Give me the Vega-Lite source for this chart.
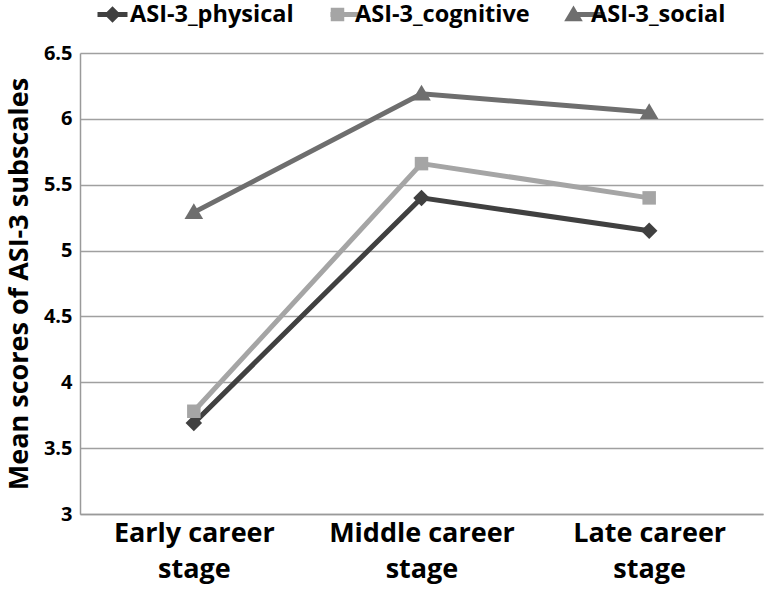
{
  "$schema": "https://vega.github.io/schema/vega-lite/v6.json",
  "width": 764,
  "height": 589,
  "autosize": {"type": "fit", "contains": "padding"},
  "padding": {"left": 5, "right": 1, "top": 43, "bottom": 7},
  "background": "white",
  "config": {
    "view": {"stroke": null},
    "font": "Open Sans"
  },
  "data": {
    "values": [
      {"stage": "Early career stage", "subscale": "ASI-3_physical", "mean": 3.69},
      {"stage": "Middle career stage", "subscale": "ASI-3_physical", "mean": 5.40},
      {"stage": "Late career stage", "subscale": "ASI-3_physical", "mean": 5.15},
      {"stage": "Early career stage", "subscale": "ASI-3_cognitive", "mean": 3.78},
      {"stage": "Middle career stage", "subscale": "ASI-3_cognitive", "mean": 5.66},
      {"stage": "Late career stage", "subscale": "ASI-3_cognitive", "mean": 5.40},
      {"stage": "Early career stage", "subscale": "ASI-3_social", "mean": 5.29},
      {"stage": "Middle career stage", "subscale": "ASI-3_social", "mean": 6.19},
      {"stage": "Late career stage", "subscale": "ASI-3_social", "mean": 6.05}
    ]
  },
  "encoding": {
    "x": {
      "field": "stage",
      "type": "nominal",
      "sort": ["Early career stage", "Middle career stage", "Late career stage"],
      "scale": {"type": "point", "padding": 0.5},
      "axis": {
        "title": null,
        "labelAngle": 0,
        "labelExpr": "[slice(datum.label, 0, indexof(datum.label, ' stage')), 'stage']",
        "labelFontSize": 27,
        "labelFontWeight": "bold",
        "labelColor": "black",
        "labelLineHeight": 36,
        "labelLimit": 400,
        "labelPadding": 6,
        "ticks": false,
        "domainColor": "#9a9a9a",
        "domainWidth": 1.5,
        "grid": false
      }
    },
    "y": {
      "field": "mean",
      "type": "quantitative",
      "scale": {"domain": [3, 6.5], "nice": false, "zero": false},
      "axis": {
        "title": "Mean scores of ASI-3 subscales",
        "titleFontSize": 27,
        "titleFontWeight": "bold",
        "titleColor": "black",
        "titlePadding": 10,
        "values": [3, 3.5, 4, 4.5, 5, 5.5, 6, 6.5],
        "format": "~g",
        "labelFontSize": 20,
        "labelFontWeight": "bold",
        "labelColor": "black",
        "labelPadding": 8,
        "ticks": false,
        "domainColor": "#9a9a9a",
        "domainWidth": 1.5,
        "grid": true,
        "gridColor": "#a0a0a0",
        "gridWidth": 1.5
      }
    }
  },
  "layer": [
    {
      "mark": {"type": "line", "strokeWidth": 5},
      "encoding": {
        "stroke": {
          "field": "subscale",
          "type": "nominal",
          "sort": ["ASI-3_physical", "ASI-3_cognitive", "ASI-3_social"],
          "scale": {"range": ["#404040", "#a5a5a5", "#6e6e6e"]},
          "legend": {
            "title": null,
            "orient": "none",
            "legendX": 15,
            "legendY": -56,
            "direction": "horizontal",
            "labelFontSize": 23.5,
            "labelFontWeight": "bold",
            "labelColor": "black",
            "labelOpacity": 0,
            "labelOffset": 0,
            "labelLimit": 300,
            "symbolType": "stroke",
            "symbolSize": 900,
            "symbolStrokeWidth": 5,
            "columnPadding": 26
          }
        }
      }
    },
    {
      "mark": {"type": "point", "filled": true, "opacity": 1, "size": 900},
      "encoding": {
        "color": {
          "field": "subscale",
          "type": "nominal",
          "scale": {
            "domain": ["ASI-3_physical", "ASI-3_cognitive", "ASI-3_social"],
            "range": ["#404040", "#a5a5a5", "#6e6e6e"]
          },
          "legend": {
            "title": null,
            "orient": "none",
            "legendX": 15,
            "legendY": -56,
            "direction": "horizontal",
            "labelFontSize": 23.5,
            "labelFontWeight": "bold",
            "labelColor": "black",
            "labelOffset": 0,
            "labelLimit": 300,
            "symbolSize": 900,
            "symbolStrokeWidth": 5,
            "columnPadding": 26
          }
        },
        "shape": {
          "field": "subscale",
          "type": "nominal",
          "scale": {
            "domain": ["ASI-3_physical", "ASI-3_cognitive", "ASI-3_social"],
            "range": ["M0,-0.55L0.55,0L0,0.55L-0.55,0Z", "M-0.45,-0.45H0.45V0.45H-0.45Z", "M0,-0.6L0.62,0.45H-0.62Z"]
          },
          "legend": {
            "title": null,
            "orient": "none",
            "legendX": 15,
            "legendY": -56,
            "direction": "horizontal",
            "labelFontSize": 23.5,
            "labelFontWeight": "bold",
            "labelColor": "black",
            "labelOffset": 0,
            "labelLimit": 300,
            "symbolSize": 900,
            "symbolStrokeWidth": 5,
            "columnPadding": 26
          }
        }
      }
    }
  ]
}
